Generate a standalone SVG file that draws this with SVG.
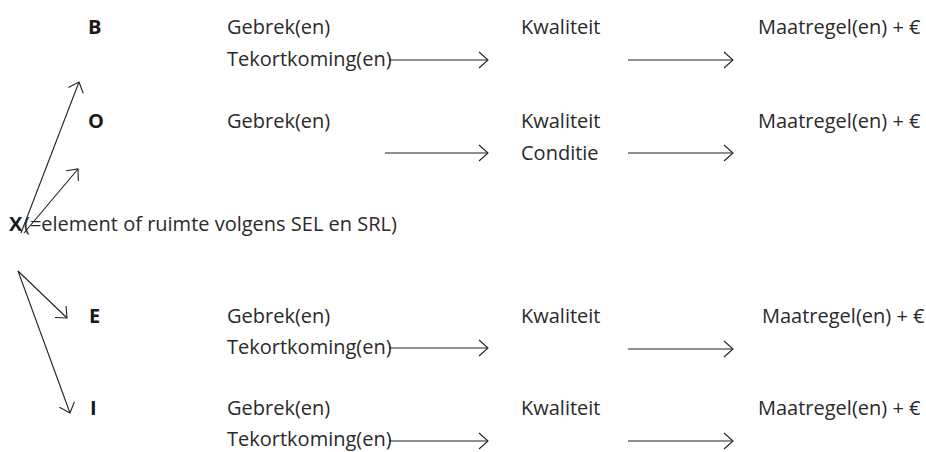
<svg xmlns="http://www.w3.org/2000/svg" width="926" height="452" viewBox="0 0 926 452">
<style>
text{font-family:"Open Sans","Noto Sans",sans-serif;font-size:20px;fill:#2a2a2a}
.b{font-weight:bold;fill:#1a1a1a}
.c line{stroke:#222;stroke-width:1.1;fill:none;marker-end:url(#ah)}
</style>
<defs>
<marker id="ah" markerUnits="userSpaceOnUse" markerWidth="14" markerHeight="20" refX="11" refY="9" orient="auto" viewBox="0 0 14 20">
<path d="M2,1 L11,9 L2,17" fill="none" stroke="#222" stroke-width="1.1"/>
</marker>
</defs>
<rect width="926" height="452" fill="#fff"/>
<g id="node-B">
<text class="b" x="88" y="34">B</text>
<text x="227" y="34">Gebrek(en)</text>
<text x="227" y="66">Tekortkoming(en)</text>
<text x="521" y="34">Kwaliteit</text>
<text x="758" y="34">Maatregel(en) + €</text>
</g>
<g id="node-O">
<text class="b" x="88" y="128">O</text>
<text x="227" y="128">Gebrek(en)</text>
<text x="521" y="128">Kwaliteit</text>
<text x="521" y="160">Conditie</text>
<text x="758" y="128">Maatregel(en) + €</text>
</g>
<g id="node-X">
<text class="b" x="9" y="231">X</text>
<text x="24" y="231">(=element of ruimte volgens SEL en SRL)</text>
</g>
<g id="node-E">
<text class="b" x="89" y="323">E</text>
<text x="227" y="323">Gebrek(en)</text>
<text x="227" y="354">Tekortkoming(en)</text>
<text x="521" y="323">Kwaliteit</text>
<text x="762" y="323">Maatregel(en) + €</text>
</g>
<g id="node-I">
<text class="b" x="90" y="415">I</text>
<text x="227" y="415">Gebrek(en)</text>
<text x="227" y="446">Tekortkoming(en)</text>
<text x="521" y="415">Kwaliteit</text>
<text x="758" y="415">Maatregel(en) + €</text>
</g>
<g id="connectors" class="c">
<line x1="389" y1="60" x2="488" y2="60"/>
<line x1="628" y1="60" x2="733" y2="60"/>
<line x1="385" y1="153" x2="488" y2="153"/>
<line x1="628" y1="153" x2="733" y2="153"/>
<line x1="389" y1="348" x2="488" y2="348"/>
<line x1="628" y1="349" x2="733" y2="349"/>
<line x1="389" y1="441" x2="488" y2="441"/>
<line x1="628" y1="441" x2="733" y2="441"/>
<line x1="21" y1="233" x2="79" y2="82"/>
<line x1="24" y1="233" x2="78" y2="169"/>
<line x1="18" y1="271" x2="67" y2="318"/>
<line x1="18" y1="271" x2="70" y2="413"/>
</g>
</svg>
